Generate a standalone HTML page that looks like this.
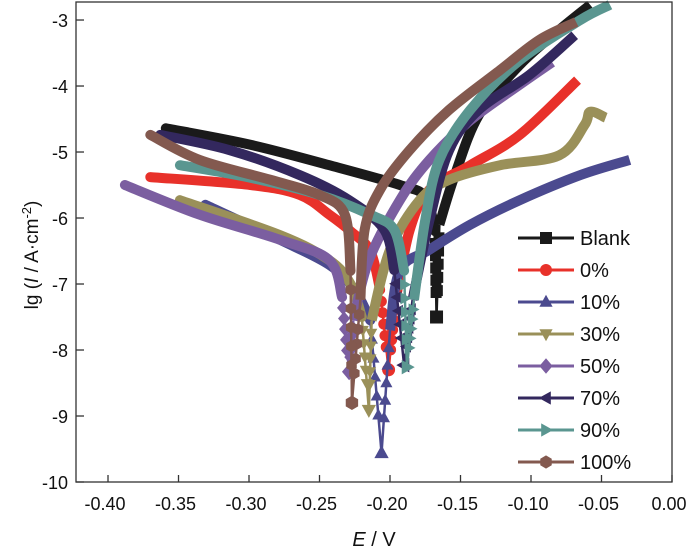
<!DOCTYPE html>
<html><head><meta charset="utf-8"><style>
body{margin:0;background:#fff}
svg text{font-family:"Liberation Sans",Arial,sans-serif;fill:#111}
</style></head><body>
<svg id="chart" width="700" height="555" viewBox="0 0 700 555" xmlns="http://www.w3.org/2000/svg">
<g id="plot"></g>
<g id="axes"></g>
<g id="legend"></g>
</svg>
<script>
const seriesNames = ["Blank","0%","10%","30%","50%","70%","90%","100%"];
const seriesColors = ["#1a1a1a","#e8312a","#4b4a8f","#9a9059","#7b5ea0","#33285e","#5a9690","#83594f"];
const seriesMarkers = ["square","circle","up","down","diamond","left","right","hex"];
const xTicks = [-0.40,-0.35,-0.30,-0.25,-0.20,-0.15,-0.10,-0.05,0.00];
const xTickLabels = ["-0.40","-0.35","-0.30","-0.25","-0.20","-0.15","-0.10","-0.05","0.00"];
const yTicks = [-3,-4,-5,-6,-7,-8,-9,-10];
const yTickLabels = ["-3","-4","-5","-6","-7","-8","-9","-10"];
// cathodic branches
const cathE = [
 [-0.359,-0.299,-0.243,-0.193,-0.175,-0.168],
 [-0.370,-0.299,-0.264,-0.243,-0.228,-0.214,-0.207],
 [-0.331,-0.278,-0.243,-0.225,-0.214],
 [-0.349,-0.278,-0.243,-0.228,-0.220],
 [-0.388,-0.335,-0.278,-0.243,-0.234],
 [-0.363,-0.314,-0.264,-0.229,-0.204,-0.197],
 [-0.349,-0.299,-0.250,-0.214,-0.197,-0.190],
 [-0.370,-0.335,-0.285,-0.250,-0.232,-0.228]
];
const cathLg = [
 [-4.64,-4.89,-5.20,-5.50,-5.68,-6.2],
 [-5.38,-5.50,-5.65,-5.95,-6.2,-6.5,-7.09],
 [-5.80,-6.33,-6.71,-7.09,-7.55],
 [-5.73,-6.26,-6.64,-7.0,-7.5],
 [-5.50,-5.95,-6.33,-6.64,-7.2],
 [-4.74,-4.97,-5.35,-5.73,-6.18,-6.79],
 [-5.20,-5.39,-5.65,-5.95,-6.18,-6.80],
 [-4.74,-5.12,-5.42,-5.65,-5.95,-6.80]
];
// corrosion potential tips
const tipE = [-0.167,-0.201,-0.206,-0.215,-0.229,-0.190,-0.188,-0.227];
const tipLg = [-7.5,-8.3,-9.56,-8.91,-8.33,-8.23,-8.26,-8.80];
// anodic branches
const anE = [
 [-0.165,-0.154,-0.137,-0.108,-0.080,-0.058],
 [-0.196,-0.186,-0.172,-0.143,-0.108,-0.067],
 [-0.200,-0.193,-0.172,-0.143,-0.108,-0.065,-0.030],
 [-0.213,-0.200,-0.179,-0.158,-0.122,-0.080,-0.062,-0.058,-0.047],
 [-0.226,-0.215,-0.193,-0.172,-0.143,-0.108,-0.085],
 [-0.184,-0.172,-0.158,-0.137,-0.101,-0.069],
 [-0.183,-0.175,-0.165,-0.143,-0.108,-0.065,-0.044],
 [-0.221,-0.218,-0.207,-0.186,-0.158,-0.122,-0.094,-0.068]
];
const anLg = [
 [-6.1,-5.35,-4.44,-3.68,-3.15,-2.77],
 [-7.24,-6.18,-5.57,-5.20,-4.74,-3.91],
 [-7.70,-6.79,-6.48,-6.10,-5.73,-5.35,-5.12],
 [-7.55,-6.48,-5.73,-5.42,-5.20,-5.05,-4.59,-4.39,-4.48],
 [-7.55,-6.64,-5.73,-5.12,-4.52,-3.98,-3.64],
 [-7.24,-6.03,-4.97,-4.36,-3.83,-3.23],
 [-7.24,-6.03,-5.12,-4.36,-3.61,-3.00,-2.77],
 [-7.24,-6.18,-5.57,-4.97,-4.36,-3.76,-3.30,-3.03]
];

const X0=76,X1=672,Y0=2,Y1=482;
const xMin=-0.4227,xMax=0,yMin=-10,yMax=-2.727;
const sx=v=>X0+(v-xMin)/(xMax-xMin)*(X1-X0);
const sy=v=>Y1-(v-yMin)/(yMax-yMin)*(Y1-Y0);
const NS="http://www.w3.org/2000/svg";
function mk(tag,parent,attrs){const e=document.createElementNS(NS,tag);for(const k in attrs)e.setAttribute(k,attrs[k]);parent.appendChild(e);return e;}
function smooth(pts){
 let d="M"+pts[0][0]+","+pts[0][1];
 for(let i=0;i<pts.length-1;i++){
  const p0=pts[Math.max(i-1,0)],p1=pts[i],p2=pts[i+1],p3=pts[Math.min(i+2,pts.length-1)];
  const c1=[p1[0]+(p2[0]-p0[0])/6,p1[1]+(p2[1]-p0[1])/6];
  const c2=[p2[0]-(p3[0]-p1[0])/6,p2[1]-(p3[1]-p1[1])/6];
  d+=" C"+c1[0]+","+c1[1]+" "+c2[0]+","+c2[1]+" "+p2[0]+","+p2[1];
 }
 return d;
}
function marker(parent,type,x,y,c,r){
 let e;
 if(type==="square") e=mk("rect",parent,{x:x-r,y:y-r,width:2*r,height:2*r,fill:c});
 else if(type==="circle") e=mk("circle",parent,{cx:x,cy:y,r:r,fill:c});
 else {
  let p;
  if(type==="up") p=[[0,-r*1.2],[r*1.1,r*0.8],[-r*1.1,r*0.8]];
  else if(type==="down") p=[[0,r*1.2],[r*1.1,-r*0.8],[-r*1.1,-r*0.8]];
  else if(type==="left") p=[[-r*1.2,0],[r*0.8,-r*1.1],[r*0.8,r*1.1]];
  else if(type==="right") p=[[r*1.2,0],[-r*0.8,-r*1.1],[-r*0.8,r*1.1]];
  else if(type==="diamond") p=[[0,-r*1.3],[r*1.1,0],[0,r*1.3],[-r*1.1,0]];
  else {p=[];for(let i=0;i<6;i++){const a=Math.PI/3*i+Math.PI/6;p.push([r*1.1*Math.cos(a),r*1.1*Math.sin(a)]);}}
  e=mk("polygon",parent,{points:p.map(q=>(x+q[0])+","+(y+q[1])).join(" "),fill:c});
 }
 return e;
}
const plot=document.getElementById("plot");
for(let s=0;s<seriesNames.length;s++){
 const g=mk("g",plot,{});
 
 
 const c=seriesColors[s];
 const cp=cathE[s].map((e,i)=>[sx(e),sy(cathLg[s][i])]);
 const ap=anE[s].map((e,i)=>[sx(e),sy(anLg[s][i])]);
 const lc=cathE[s].length-1;
 const thin=mk("polyline",g,{points:sx(cathE[s][lc])+","+sy(cathLg[s][lc])+" "+sx(tipE[s])+","+sy(tipLg[s])+" "+sx(anE[s][0])+","+sy(anLg[s][0]),fill:"none",stroke:c,"stroke-width":2.5});
 
 
 const p1=mk("path",g,{d:smooth(cp),fill:"none",stroke:c,"stroke-width":10,"stroke-linejoin":"round","stroke-linecap":"round"});
 
 
 const p2=mk("path",g,{d:smooth(ap),fill:"none",stroke:c,"stroke-width":10,"stroke-linejoin":"round","stroke-linecap":"butt"});
 
 
 // markers along tip descent (both sides)
 const xa=sx(cathE[s][lc]),ya=sy(cathLg[s][lc]),xt=sx(tipE[s]),yt=sy(tipLg[s]);
 const xb=sx(anE[s][0]),yb=sy(anLg[s][0]);
 for(let k=1;k<=5;k++){const t=k/7;
  const m=marker(g,seriesMarkers[s],xa+(xt-xa)*t,ya+(yt-ya)*t,c,5.5);
  
  const m2=marker(g,seriesMarkers[s],xb+(xt-xb)*t,yb+(yt-yb)*t,c,5.5);
  }
 const m=marker(g,seriesMarkers[s],xt,yt,c,6.5);
 
 
}
const axes=document.getElementById("axes");
const frame=mk("rect",axes,{x:X0,y:Y0,width:X1-X0,height:Y1-Y0,fill:"none",stroke:"#333","stroke-width":1.3});


xTicks.forEach((v,i)=>{
 mk("line",axes,{x1:sx(v),x2:sx(v),y1:Y1,y2:Y1-7,stroke:"#333","stroke-width":1.3});
 const t=mk("text",axes,{x:sx(v)-3,y:Y1+28,"text-anchor":"middle","font-size":18});
 t.textContent=xTickLabels[i];
 
 
});
yTicks.forEach((v,i)=>{
 mk("line",axes,{x1:X0,x2:X0+8,y1:sy(v),y2:sy(v),stroke:"#333","stroke-width":1.3});
 const t=mk("text",axes,{x:X0-8,y:sy(v)+7,"text-anchor":"end","font-size":18});
 t.textContent=yTickLabels[i];
 
 
});
const xt=mk("text",axes,{x:374,y:546,"text-anchor":"middle","font-size":20});
xt.innerHTML='<tspan font-style="italic">E</tspan> / V';


const yt=mk("text",axes,{x:0,y:0,"text-anchor":"middle","font-size":19,transform:"translate(38,255) rotate(-90)"});
yt.innerHTML='lg (<tspan font-style="italic">I</tspan> / A·cm<tspan dy="-7" font-size="13">-2</tspan><tspan dy="7">)</tspan>';


const leg=document.getElementById("legend");
seriesNames.forEach((n,i)=>{
 const y=238+i*32;
 const g=mk("g",leg,{});
 
 
 mk("line",g,{x1:518,x2:574,y1:y,y2:y,stroke:seriesColors[i],"stroke-width":3});
 marker(g,seriesMarkers[i],546,y,seriesColors[i],6);
 const t=mk("text",g,{x:580,y:y+7,"font-size":20});
 t.textContent=n;
});
</script>
</body></html>
